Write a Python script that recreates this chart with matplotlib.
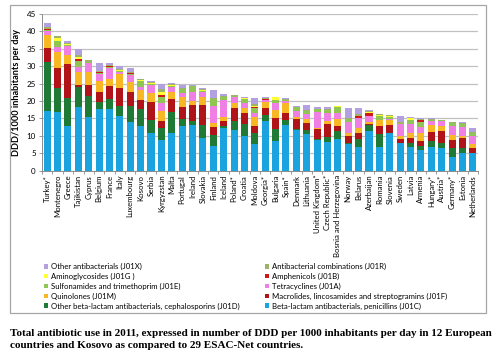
import numpy as np
import matplotlib.pyplot as plt
from matplotlib.patches import Rectangle

countries = ["Turkey*", "Montenegro", "Greece", "Tajikistan", "Cyprus", "Belgium", "France",
             "Italy", "Luxembourg", "Kosovo", "Serbia", "Kyrgyzstan", "Malta", "Portugal",
             "Ireland", "Slovakia", "Finland", "Iceland", "Poland*", "Croatia", "Moldova",
             "Georgia*", "Bulgaria", "Spain*", "Denmark", "Lithuania", "United Kingdom*",
             "Czech Republic*", "Bosnia and Herzegovina", "Norway", "Belarus", "Azerbaijan",
             "Romania", "Slovenia", "Sweden", "Latvia", "Armenia", "Hungary*", "Austria*",
             "Germany*", "Estonia", "Netherlands"]

# DDD per 1000 inhabitants per day, one list per ATC group (stack order bottom -> top)
j01c = [17.1, 17.0, 12.7, 18.2, 15.5, 17.6, 17.8, 15.7, 14.1, 12.7, 10.9, 8.7, 10.7, 12.9,
        13.1, 9.3, 7.1, 12.2, 11.7, 10.0, 7.7, 14.3, 8.6, 13.1, 11.7, 10.5, 8.8,
        8.1, 9.0, 7.7, 6.9, 11.5, 6.9, 10.7, 7.9, 6.9, 5.9, 6.7, 6.4, 3.8, 5.0, 5.0]
j01d = [14.2, 6.7, 8.3, 5.8, 6.0, 2.0, 2.7, 2.9, 4.5, 5.0, 3.7, 3.6, 6.3, 1.9,
        1.3, 3.8, 3.1, 0.6, 2.6, 3.3, 3.0, 1.7, 3.3, 1.5, 0.3, 1.2, 0.4,
        1.7, 2.4, 0.2, 2.1, 1.6, 3.6, 0.2, 0.1, 1.0, 1.2, 1.8, 1.6, 2.6, 1.4, 0.2]
j01f = [4.0, 5.9, 9.6, 0.6, 3.2, 3.1, 3.9, 5.2, 4.0, 2.6, 5.0, 2.0, 3.6, 3.6,
        4.5, 5.8, 2.3, 1.6, 3.6, 3.2, 2.1, 1.9, 3.3, 2.1, 2.8, 2.1, 2.8,
        3.5, 1.5, 2.1, 1.7, 0.3, 2.3, 2.2, 1.0, 1.6, 1.5, 2.7, 3.4, 2.4, 2.9, 1.2]
j01m = [3.6, 4.6, 2.7, 3.8, 3.7, 3.0, 2.0, 3.9, 2.9, 3.0, 2.6, 2.9, 2.1, 2.9,
        1.1, 2.4, 1.1, 0.9, 1.4, 1.6, 2.7, 1.9, 2.2, 2.6, 0.7, 1.0, 0.2,
        1.1, 1.9, 0.9, 1.5, 0.7, 1.8, 1.5, 1.0, 1.2, 2.1, 1.9, 1.4, 1.4, 0.7, 1.3]
j01a = [1.2, 1.4, 2.4, 1.3, 2.6, 2.1, 3.2, 0.7, 2.1, 0.6, 2.4, 2.3, 1.3, 0.9,
        2.7, 1.4, 5.0, 5.0, 2.0, 1.4, 1.1, 0.5, 1.9, 0.7, 1.7, 1.5, 4.6,
        2.1, 1.9, 3.2, 2.8, 1.6, 0.1, 0.2, 3.4, 2.7, 1.9, 1.3, 1.6, 2.7, 2.5, 2.3]
j01e = [0.3, 1.6, 0.3, 1.7, 0.2, 0.2, 0.3, 0.2, 0.3, 1.9, 0.3, 1.7, 0.2, 1.2,
        1.6, 0.2, 1.9, 1.0, 0.1, 1.2, 1.5, 0.1, 1.0, 0.2, 1.0, 0.8, 0.8,
        0.9, 1.5, 0.7, 0.1, 0.1, 1.0, 0.7, 0.3, 1.2, 1.5, 0.2, 0.1, 0.7, 0.9, 0.9]
j01b = [0.2, 0.1, 0.1, 0.7, 0.0, 0.3, 0.1, 0.1, 0.1, 0.1, 0.1, 0.5, 0.1, 0.1,
        0.0, 0.1, 0.0, 0.0, 0.0, 0.0, 0.2, 0.1, 0.0, 0.0, 0.0, 0.0, 0.0,
        0.0, 0.0, 0.0, 0.6, 0.7, 0.0, 0.0, 0.0, 0.0, 0.5, 0.0, 0.0, 0.0, 0.0, 0.0]
j01g = [0.2, 0.9, 0.2, 0.6, 0.1, 0.1, 0.1, 0.1, 0.1, 0.1, 0.2, 1.0, 0.3, 0.1,
        0.0, 0.1, 0.0, 0.0, 0.1, 0.1, 0.3, 0.1, 0.8, 0.1, 0.0, 0.0, 0.0,
        0.0, 0.4, 0.0, 0.1, 0.4, 0.3, 0.1, 0.0, 0.4, 0.1, 0.1, 0.0, 0.0, 0.0, 0.0]
j01r = [0.6, 0.4, 0.3, 0.4, 0.4, 0.3, 0.3, 0.3, 0.3, 0.2, 0.3, 0.8, 0.2, 0.2,
        0.1, 0.3, 0.3, 0.2, 0.1, 0.2, 0.6, 0.3, 0.0, 0.3, 0.2, 0.2, 0.1,
        0.2, 0.0, 0.2, 0.5, 0.2, 0.3, 0.4, 0.4, 0.2, 0.2, 0.2, 0.1, 0.3, 0.3, 0.1]
j01x = [0.9, 0.0, 0.6, 1.8, 0.1, 2.3, 0.4, 0.9, 1.2, 0.0, 0.2, 1.5, 0.3, 0.8,
        0.2, 0.3, 2.4, 0.5, 0.1, 0.3, 1.6, 0.2, 0.0, 0.2, 0.2, 1.6, 0.7,
        0.8, 0.0, 2.9, 1.6, 0.3, 0.0, 0.0, 1.6, 0.3, 0.3, 0.1, 0.0, 0.0, 0.2, 1.2]

series = [
    (j01c, "Beta-lactam antibacterials, penicillins (J01C)", "#1aa3de"),
    (j01d, "Other beta-lactam antibacterials, cephalosporins (J01D)", "#1e7a34"),
    (j01f, "Macrolides, lincosamides and streptogramins (J01F)", "#b01419"),
    (j01m, "Quinolones (J01M)", "#f8b823"),
    (j01a, "Tetracyclines (J01A)", "#ef7fe2"),
    (j01e, "Sulfonamides and trimethoprim (J01E)", "#8fc652"),
    (j01b, "Amphenicols (J01B)", "#d01818"),
    (j01g, "Aminoglycosides (J01G )", "#ffff33"),
    (j01r, "Antibacterial combinations (J01R)", "#9eb36a"),
    (j01x, "Other antibacterials (J01X)", "#b3a0e0"),
]

plt.rcParams['font.family'] = ['Lato', 'DejaVu Sans']

fig = plt.figure(figsize=(5, 3.58), dpi=100)
fig.patches.append(Rectangle((10 / 500, 1 - 313 / 358), 476 / 500, 308 / 358,
                             transform=fig.transFigure, fill=False,
                             edgecolor="#a6a6a6", linewidth=0.9))

ax = fig.add_axes([42 / 500, 1 - 170.7 / 358, 436 / 500, 156.7 / 358])
x = np.arange(len(countries))
bottom = np.zeros(len(countries))
handles = []
for vals, name, color in series:
    b = ax.bar(x, vals, bottom=bottom, width=0.68, color=color, label=name, zorder=3)
    handles.append(b)
    bottom += np.array(vals)

ax.set_xlim(-0.5, len(countries) - 0.5)
ax.set_ylim(0, 45)
ax.set_yticks(np.arange(0, 46, 5))
ax.yaxis.grid(True, color="#c0c0c0", linewidth=0.9, zorder=0)
ax.set_xticks(x)
ax.set_xticklabels(countries, rotation=90, fontsize=5.6)
ax.set_xticks(np.arange(-0.5, len(countries), 1), minor=True)
ax.tick_params(axis='x', which='major', length=0, pad=3)
ax.tick_params(axis='x', which='minor', length=2.5, color="#8c8c8c", width=0.6)
ax.tick_params(axis='y', labelsize=5.8, length=2.5, color="#8c8c8c", width=0.6, pad=2)
for s in ['top', 'right']:
    ax.spines[s].set_visible(False)
for s in ['left', 'bottom']:
    ax.spines[s].set_color("#8c8c8c")
    ax.spines[s].set_linewidth(0.7)
ax.set_ylabel("DDD/1000 inhabitants per day", fontsize=6.6, fontweight='bold', labelpad=4)

# legend, Excel puts it in reverse order across two columns
order = [9, 8, 7, 6, 5, 4, 3, 2, 1, 0]
h_rev = [handles[i] for i in order]
l_rev = [series[i][1] for i in order]
h_cols = h_rev[0::2] + h_rev[1::2]
l_cols = l_rev[0::2] + l_rev[1::2]
fig.legend(h_cols, l_cols, ncol=2, loc='upper left',
           bbox_to_anchor=(40 / 500, 1 - 259 / 358), frameon=False,
           fontsize=5.6, handlelength=0.55, handleheight=0.55, handletextpad=0.4,
           labelspacing=0.35, columnspacing=3.2, borderpad=0)

fig.text(10 / 500, 1 - 333 / 358,
         "Total antibiotic use in 2011, expressed in number of DDD per 1000 inhabitants per day in 12 European",
         fontsize=8.0, fontweight='bold', family='Liberation Serif', va='center')
fig.text(10 / 500, 1 - 345 / 358,
         "countries and Kosovo as compared to 29 ESAC-Net countries.",
         fontsize=8.0, fontweight='bold', family='Liberation Serif', va='center')

fig.savefig("out.png", dpi=100)
